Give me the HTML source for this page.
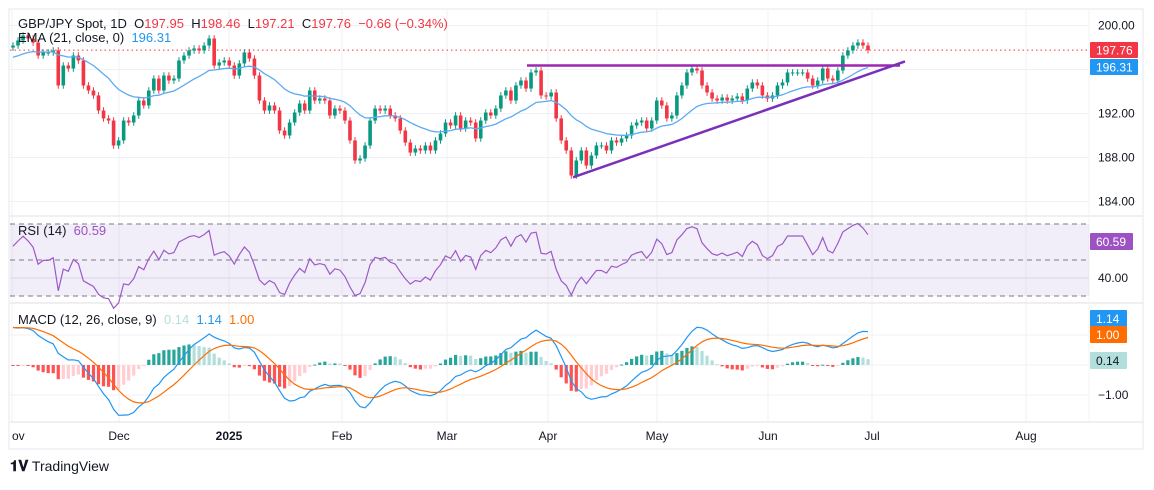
<!DOCTYPE html>
<html><head><meta charset="utf-8">
<style>
body{margin:0;background:#fff;width:1154px;height:485px;overflow:hidden;font-family:"Liberation Sans",sans-serif;}
svg text{font-family:"Liberation Sans",sans-serif;}
</style></head>
<body>
<svg id="chart" width="1154" height="485" xmlns="http://www.w3.org/2000/svg">
<rect x="9" y="9" width="1134" height="440" fill="#fff" stroke="#e6e7ec" stroke-width="1"/>
<g id="grid"></g>
<g id="rsiBg"></g>
<g id="marks"></g>
<g id="labels"></g>
</svg>
<script>
const closes=[198.18,198.64,199.09,198.82,198.45,197.27,197.55,197.55,197.73,194.55,196.36,196.09,197.27,196.82,194.55,194.09,193.64,192.27,191.55,191.36,189.09,189.55,191.36,191.18,191.82,193.18,192.73,194.09,195.18,194.09,195.45,195.0,195.18,196.82,197.27,197.73,197.91,197.73,198.18,198.82,196.36,196.64,196.82,196.36,195.45,196.55,197.55,197.0,195.45,193.18,192.27,192.73,192.27,190.45,190.0,191.18,192.09,192.91,192.27,194.09,193.18,193.36,193.18,191.82,192.45,192.27,191.36,189.55,187.73,187.91,189.09,191.36,192.45,192.27,192.45,191.82,191.55,190.45,189.36,188.45,188.82,188.64,189.09,188.64,189.55,190.18,191.18,190.91,191.82,190.64,191.36,191.18,189.73,191.36,192.09,191.82,192.45,193.64,194.09,193.18,194.55,195.0,194.27,195.73,195.91,193.64,193.55,193.91,191.55,189.55,188.64,186.36,187.73,188.64,187.27,188.18,189.09,189.09,188.64,189.55,189.36,189.73,190.0,190.91,191.18,191.36,190.64,191.36,193.18,192.73,191.55,191.82,193.64,194.55,195.73,196.09,195.91,194.55,193.91,193.36,193.18,193.45,193.18,193.36,193.55,193.18,194.27,194.82,194.55,193.64,193.36,193.64,194.55,194.82,195.73,195.73,195.73,195.73,195.18,194.55,195.0,196.09,195.18,195.0,195.91,197.27,197.73,198.18,198.45,198.18,197.76];
const priceTicks=[200,196,192,188,184];
const rsiTicks=[40];
const macdTicks=[-1];
const monthLabels=["ov","Dec","2025","Feb","Mar","Apr","May","Jun","Jul","Aug"];
const monthX=[12,119,229,342,447,548,657,768,872,1026];
const resistance=196.36;
const supportStart=186.2, supportEnd=196.82;
const lastPrice=197.76;

const NS="http://www.w3.org/2000/svg";
function el(tag,attrs,parent,txt){const e=document.createElementNS(NS,tag);for(const k in attrs)e.setAttribute(k,attrs[k]);if(txt!==undefined)e.textContent=txt;document.getElementById(parent).appendChild(e);return e;}
const X0=13,X1=868,RIGHT=1089;
const step=(X1-X0)/(closes.length-1);
const xs=i=>X0+i*step;
const yP=p=>25.5+(200-p)*11;
const yR=v=>260-(v-50)*1.8;
const yM=v=>365-v*30;

priceTicks.forEach(p=>{const g=el('line',{x1:10,x2:RIGHT,y1:yP(p),y2:yP(p),stroke:'#f0f1f4'},'grid');});
monthX.forEach(x=>{const g=el('line',{x1:x,x2:x,y1:10,y2:422,stroke:'#f0f1f4'},'grid');});
[216,303,422].forEach(y=>{const s=el('line',{x1:10,x2:1143,y1:y,y2:y,stroke:'#e0e1e6'},'grid');});
el('line',{x1:RIGHT,x2:RIGHT,y1:10,y2:422,stroke:'#f3f3f5'},'grid');
[40].forEach(v=>{el('line',{x1:10,x2:RIGHT,y1:yR(v),y2:yR(v),stroke:'#e6e3f0'},'grid');});
macdTicks.concat([0,1]).forEach(v=>{el('line',{x1:10,x2:RIGHT,y1:yM(v),y2:yM(v),stroke:'#f0f1f4'},'grid');});

const rb=el('rect',{x:10,y:yR(70),width:RIGHT-10,height:yR(30)-yR(70),fill:'#7e57c2','fill-opacity':0.1},'rsiBg');

[70,50,30].forEach(v=>{const l=el('line',{x1:10,x2:RIGHT,y1:yR(v),y2:yR(v),stroke:'#787b86','stroke-dasharray':'5,4'},'rsiBg');});

const lp=el('line',{x1:10,x2:RIGHT,y1:yP(lastPrice),y2:yP(lastPrice),stroke:'#f23645','stroke-dasharray':'1.5,3'},'marks');


for(let i=0;i<closes.length;i++){
  const c=closes[i],o=i?closes[i-1]:198.0;
  const up=c>=o,col=up?'#089981':'#f23645';
  const hi=Math.max(o,c)+0.3,lo=Math.min(o,c)-0.3;
  const x=xs(i);
  const w=el('line',{x1:x,x2:x,y1:yP(hi),y2:yP(lo),stroke:col,'stroke-width':1},'marks');
  
  const top=yP(Math.max(o,c)),h=Math.max(1,yP(Math.min(o,c))-top);
  const b=el('rect',{x:x-1.8,y:top,width:3.6,height:h,fill:col},'marks');
  
}
let ema=197.0;const emaPts=[];
closes.forEach((c,i)=>{ema=ema+(c-ema)*2/22;emaPts.push(xs(i).toFixed(1)+','+yP(ema).toFixed(1));});
const emaL=el('polyline',{points:emaPts.join(' '),fill:'none',stroke:'#5cabf2','stroke-width':1.3},'marks');


const rl=el('line',{x1:527,x2:900,y1:yP(resistance),y2:yP(resistance),stroke:'#9c27b0','stroke-width':2.5},'marks');

const sl=el('line',{x1:573,x2:905,y1:yP(supportStart),y2:yP(supportEnd)+1,stroke:'#7b30b8','stroke-width':2.5},'marks');


let ag=0.3,al=0.22;const rsiPts=[];
closes.forEach((c,i)=>{const d=i?c-closes[i-1]:0;ag=(ag*13+Math.max(d,0))/14;al=(al*13+Math.max(-d,0))/14;const r=100-100/(1+ag/al);rsiPts.push(xs(i).toFixed(1)+','+yR(r).toFixed(1));});
const rsiL=el('polyline',{points:rsiPts.join(' '),fill:'none',stroke:'#9c5ac7','stroke-width':1.2},'marks');


let e12=197.6,e26=196.3,sig=1.25,prevH=0;const mPts=[],sPts=[];
closes.forEach((c,i)=>{e12+= (c-e12)*2/13;e26+=(c-e26)*2/27;const m=e12-e26;sig+=(m-sig)*2/10;const h=m-sig;
  const x=xs(i);mPts.push(x.toFixed(1)+','+yM(m).toFixed(1));sPts.push(x.toFixed(1)+','+yM(sig).toFixed(1));
  const col=h>=0?(h>=prevH?'#26a69a':'#b2dfdb'):(h<prevH?'#ff5252':'#ffcdd2');
  const y0=yM(0),y1=yM(h);
  const r=el('rect',{x:x-1.6,y:Math.min(y0,y1),width:3.2,height:Math.max(1,Math.abs(y1-y0)),fill:col},'marks');
  
  prevH=h;});
const ml=el('polyline',{points:mPts.join(' '),fill:'none',stroke:'#2196f3','stroke-width':1.2},'marks');

const sgl=el('polyline',{points:sPts.join(' '),fill:'none',stroke:'#ff6d00','stroke-width':1.2},'marks');


priceTicks.forEach(p=>{if(p===196)return;const t=el('text',{x:1098,y:yP(p)+4,'font-size':12,fill:'#131722'},'labels',p.toFixed(2));});
rsiTicks.forEach(v=>{const t=el('text',{x:1098,y:yR(v)+4,'font-size':12,fill:'#131722'},'labels',v.toFixed(2));});
macdTicks.forEach(v=>{const t=el('text',{x:1098,y:yM(v)+4,'font-size':12,fill:'#131722'},'labels','\u22121.00');});
monthLabels.forEach((m,i)=>{const t=el('text',{x:monthX[i],y:440,'font-size':12,'text-anchor':i===0?'start':'middle',fill:'#131722','font-weight':m==='2025'?'bold':'normal'},'labels',m);});
function box(y,h,fill,txt,tc,name,w){const r=el('rect',{x:1090,y:y,width:w||42,height:h,fill:fill,rx:1},'labels');
 const t=el('text',{x:1096,y:y+h/2+4.5,'font-size':12,fill:tc},'labels',txt);}
box(42,16,'#f23645','197.76','#fff','last-price-label',48);
box(59,16,'#2196f3','196.31','#fff','ema-price-label',48);
box(233,17,'#9c52c2','60.59','#fff','rsi-value-label',43);
box(310,17,'#2196f3','1.14','#fff','macd-value-label',37);
box(326,17,'#ff6d00','1.00','#fff','signal-value-label',37);
box(352,17,'#b2dfdb','0.14','#131722','histogram-value-label',37);
</script>
<div style="position:absolute;left:18px;top:16px;font-size:13px;color:#131722;white-space:pre;">GBP/JPY Spot, 1D  O<span style="color:#f23645">197.95</span>  H<span style="color:#f23645">198.46</span>  L<span style="color:#f23645">197.21</span>  C<span style="color:#f23645">197.76  −0.66 (−0.34%)</span></div>
<div style="position:absolute;left:18px;top:30px;font-size:13px;color:#131722;white-space:pre;">EMA (21, close, 0)  <span style="color:#2196f3">196.31</span></div>
<div style="position:absolute;left:18px;top:223px;font-size:13px;color:#131722;white-space:pre;">RSI (14)  <span style="color:#9c52c2">60.59</span></div>
<div style="position:absolute;left:18px;top:312px;font-size:13px;color:#131722;white-space:pre;">MACD (12, 26, close, 9)  <span style="color:#b2dfdb">0.14</span>  <span style="color:#2196f3">1.14</span>  <span style="color:#ff6d00">1.00</span></div>
<div style="position:absolute;left:10px;top:458px;font-size:14px;color:#131722;white-space:pre;"><b style="font-size:15px">𝟏𝐕</b> TradingView</div>
</body></html>
